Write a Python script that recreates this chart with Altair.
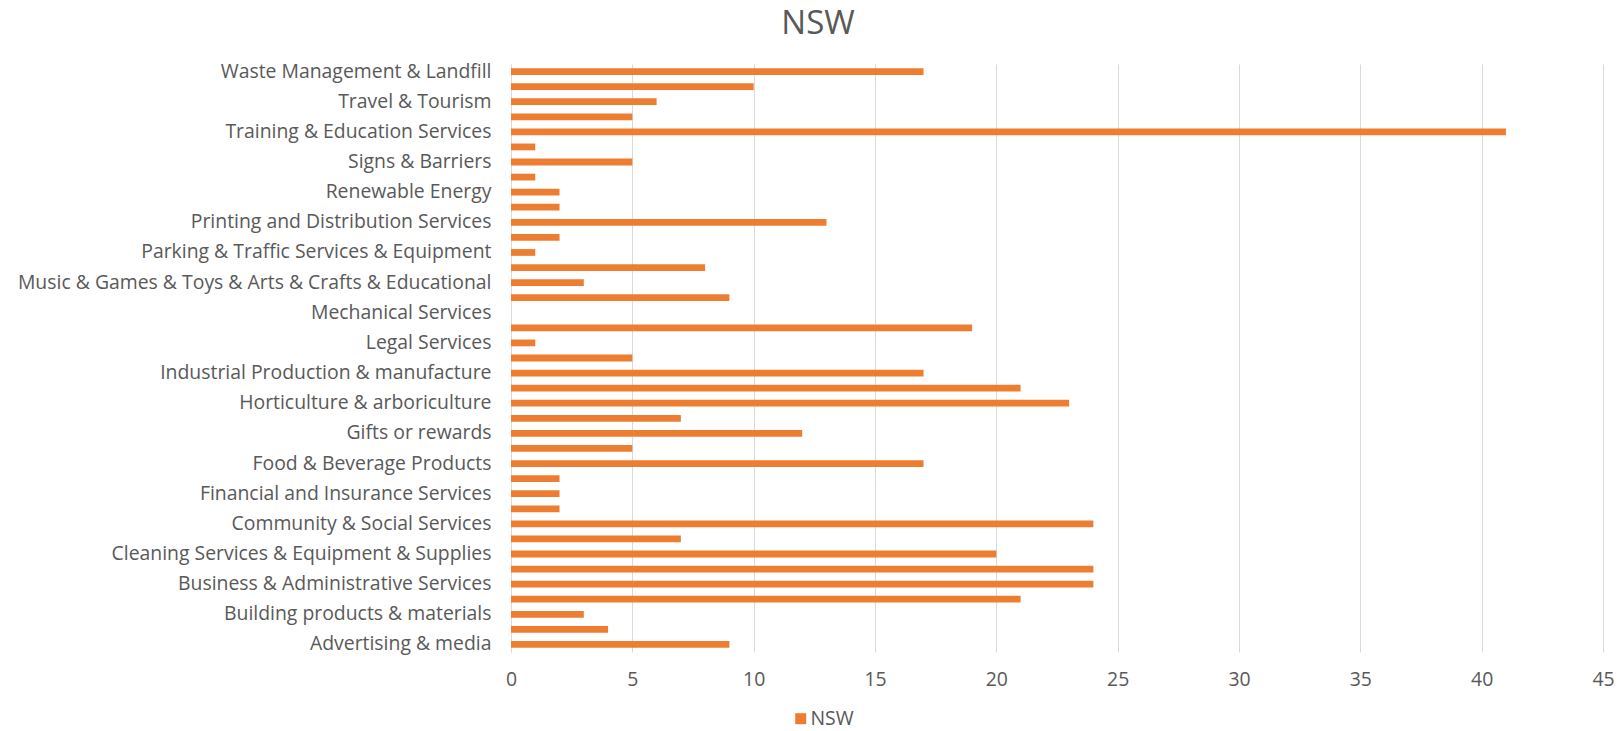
import altair as alt
import pandas as pd

categories = [
    "Advertising & media",
    "Aged Care Services",
    "Building products & materials",
    "Building Services & Maintenance",
    "Business & Administrative Services",
    "Catering Services",
    "Cleaning Services & Equipment & Supplies",
    "Clothing & Uniforms",
    "Community & Social Services",
    "Construction & Civil Works",
    "Financial and Insurance Services",
    "Fleet & Vehicles",
    "Food & Beverage Products",
    "Furniture & Fittings",
    "Gifts or rewards",
    "Health & Medical Services",
    "Horticulture & arboriculture",
    "Hospitality & Events",
    "Industrial Production & manufacture",
    "Information Technology",
    "Legal Services",
    "Marketing & Communications",
    "Mechanical Services",
    "Mining & Resources",
    "Music & Games & Toys & Arts & Crafts & Educational",
    "Office Supplies & Stationery",
    "Parking & Traffic Services & Equipment",
    "Plumbing & Electrical",
    "Printing and Distribution Services",
    "Recruitment & Labour Hire",
    "Renewable Energy",
    "Security Services",
    "Signs & Barriers",
    "Sports & Recreation",
    "Training & Education Services",
    "Transport & Logistics",
    "Travel & Tourism",
    "Utilities",
    "Waste Management & Landfill",
]

values = [9, 4, 3, 21, 24, 24, 20, 7, 24, 2, 2, 2, 17, 5, 12, 7, 23, 21, 17, 5,
          1, 19, 0, 9, 3, 8, 1, 2, 13, 2, 2, 1, 5, 1, 41, 5, 6, 10, 17]

shown_labels = categories[0::2]
x_ticks = [0, 5, 10, 15, 20, 25, 30, 35, 40, 45]

df = pd.DataFrame({"category": categories, "value": values, "series": "NSW"})

label_list = "[" + ",".join("'" + s.replace("'", "\\'") + "'" for s in shown_labels) + "]"

FONT = "Open Sans"
GREY = "#595959"

chart = (
    alt.Chart(df)
    .mark_bar()
    .encode(
        x=alt.X(
            "value:Q",
            scale=alt.Scale(domain=[0, 45], nice=False),
            axis=alt.Axis(
                title=None,
                values=x_ticks,
                grid=True,
                gridColor="#D9D9D9",
                domain=False,
                ticks=False,
                labelFlush=False,
                labelFontSize=19.4,
                labelColor=GREY,
                labelFont=FONT,
                labelPadding=18,
            ),
        ),
        y=alt.Y(
            "category:N",
            sort=list(reversed(categories)),
            scale=alt.Scale(paddingInner=0.55, paddingOuter=0.275),
            axis=alt.Axis(
                title=None,
                domain=True,
                domainColor="#D9D9D9",
                ticks=False,
                labelFontSize=19.4,
                labelColor=GREY,
                labelFont=FONT,
                labelPadding=20,
                labelLimit=600,
                labelExpr=f"indexof({label_list}, datum.value) >= 0 ? datum.value : ''",
            ),
        ),
        color=alt.Color(
            "series:N",
            scale=alt.Scale(range=["#ED7D31"]),
            legend=alt.Legend(
                title=None,
                orient="none",
                legendX=280,
                legendY=645,
                symbolType="square",
                symbolSize=121,
                symbolStrokeWidth=0,
                labelFontSize=19.4,
                labelColor=GREY,
                labelFont=FONT,
                labelOffset=0,
            ),
        ),
    )
    .properties(
        width=1092,
        height=588,
        padding={"left": 511, "top": 64, "right": 19, "bottom": 79},
        autosize=alt.AutoSizeParams(type="none"),
        title=alt.TitleParams(
            text="NSW",
            fontSize=33,
            font=FONT,
            fontWeight="normal",
            color=GREY,
            anchor="middle",
            dx=-239,
            offset=20,
        ),
    )
    .configure_view(stroke=None)
)

chart.save("out.html", embed_options={"renderer": "svg", "actions": False})
